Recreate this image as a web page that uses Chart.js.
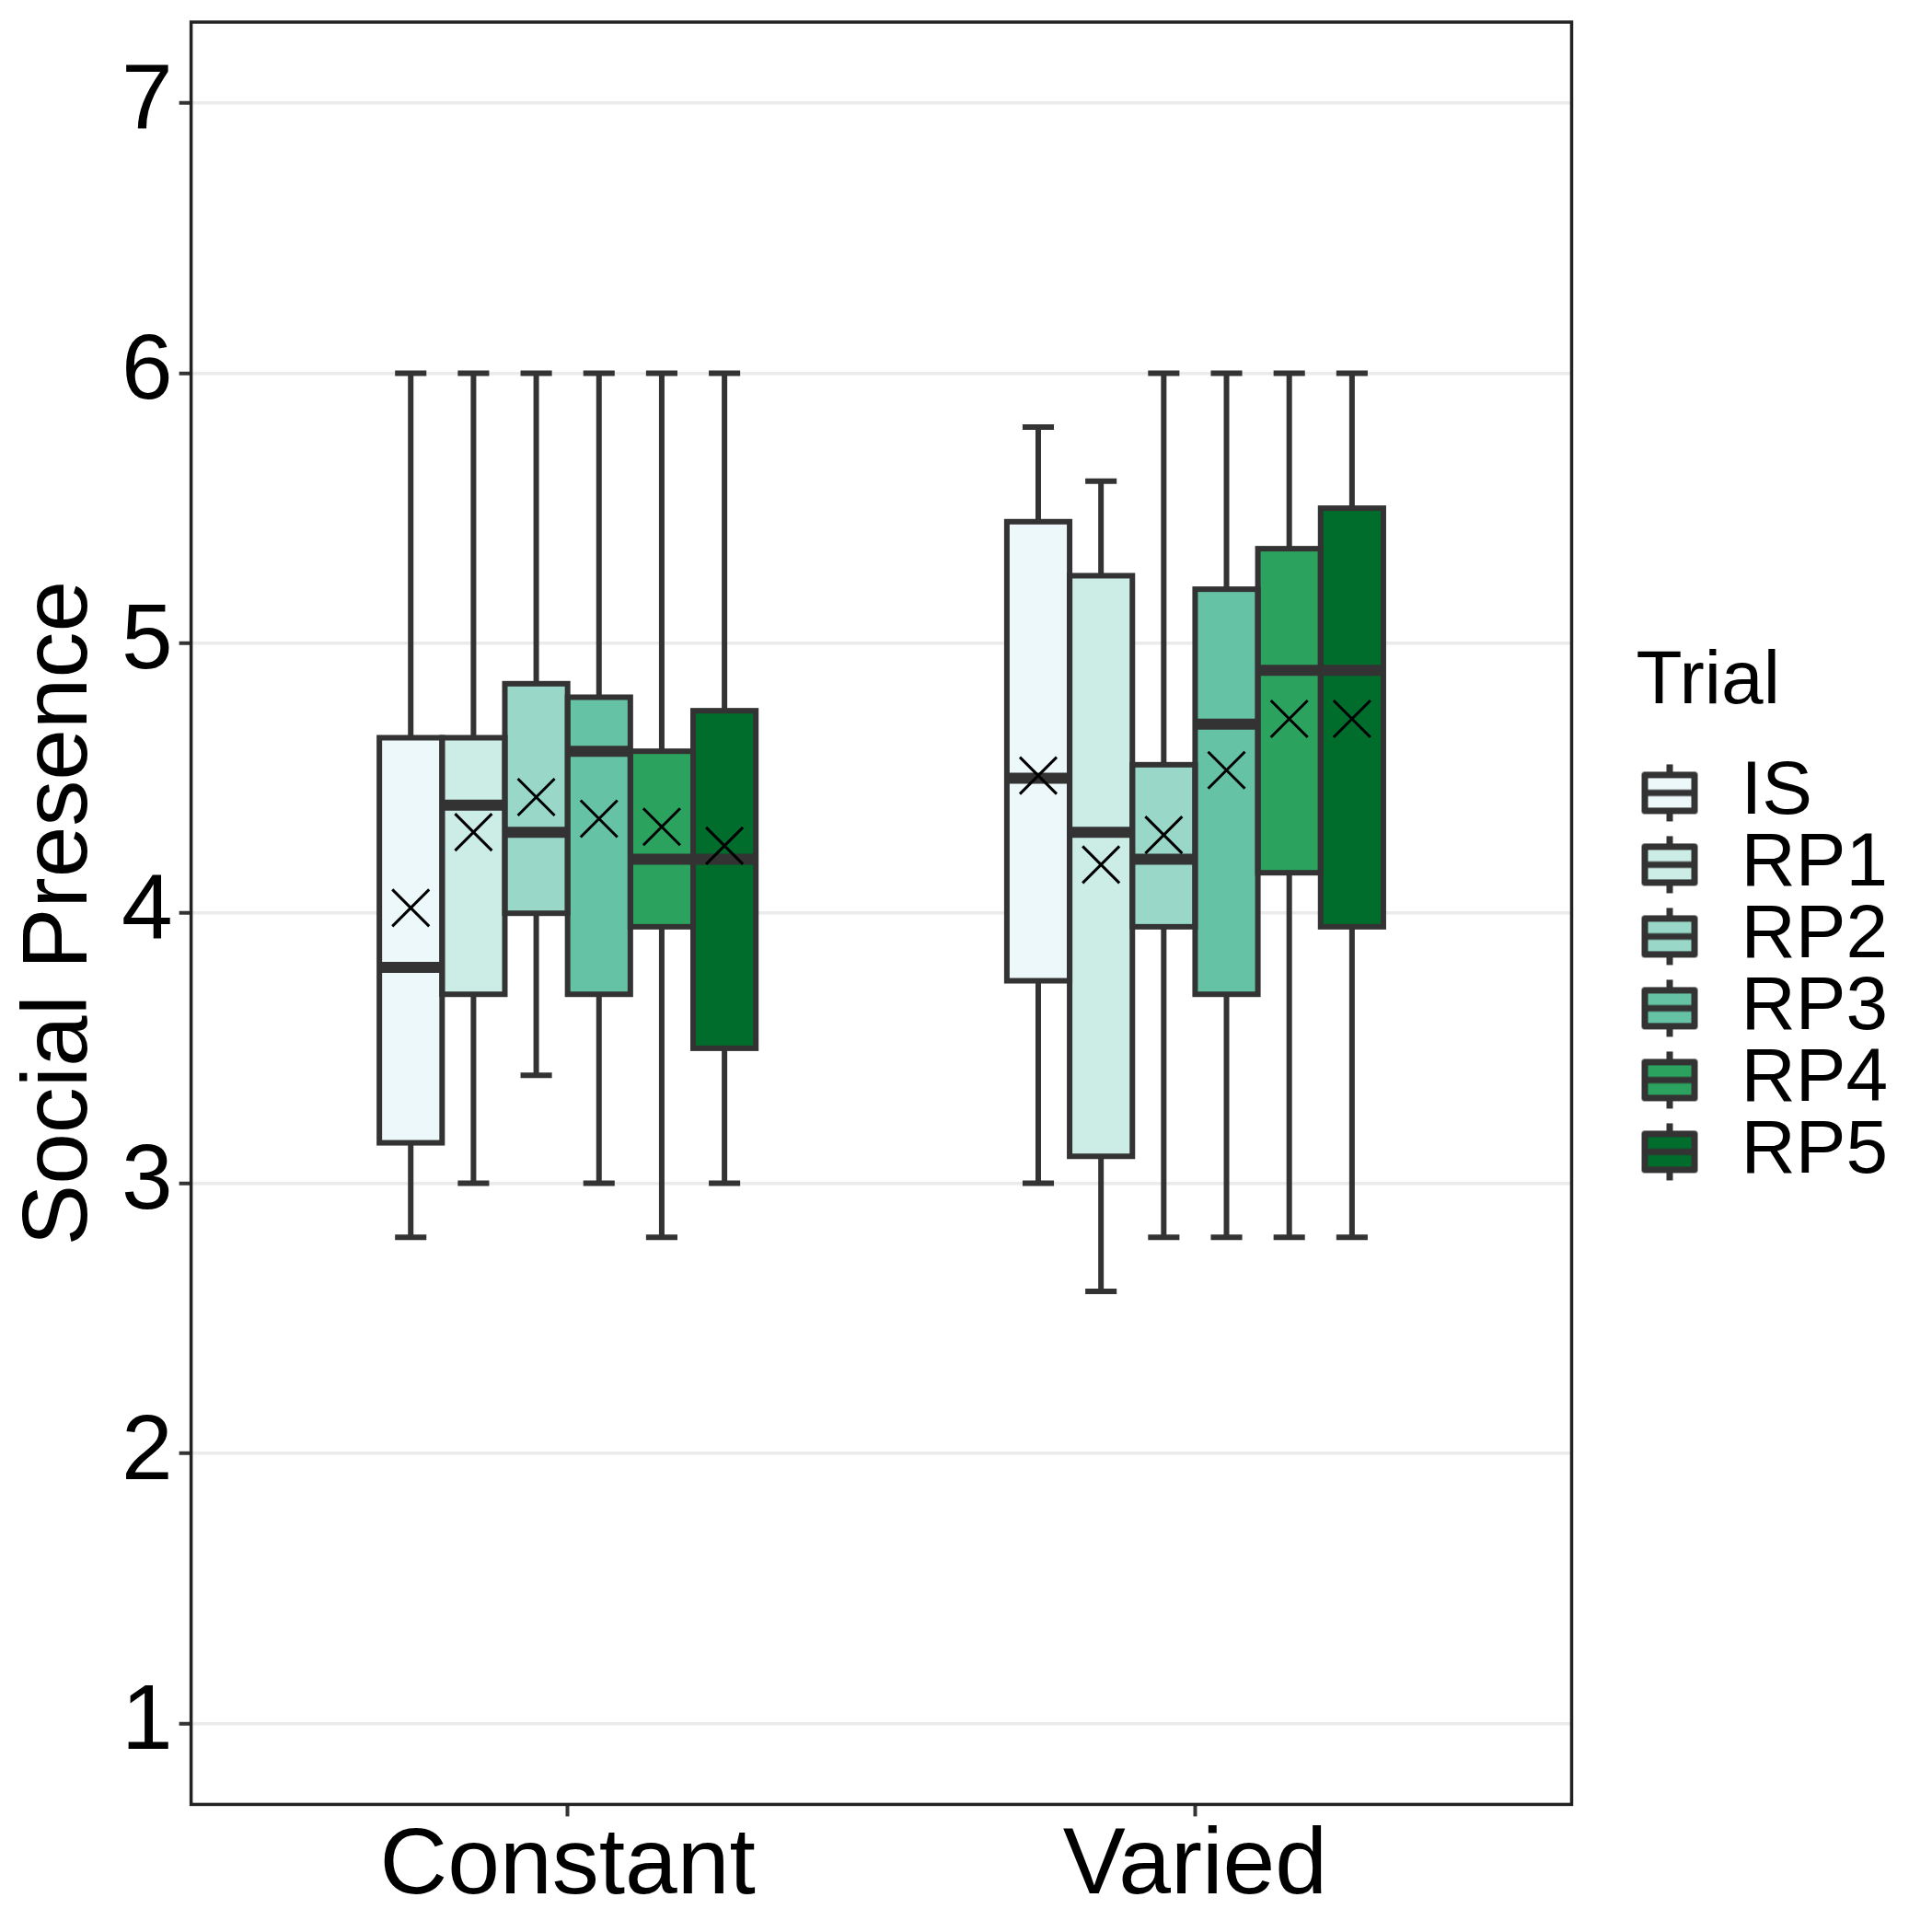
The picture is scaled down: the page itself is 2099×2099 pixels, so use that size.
<!DOCTYPE html>
<html>
<head>
<meta charset="utf-8">
<script src="https://cdn.jsdelivr.net/npm/chart.js@4.4.1/dist/chart.umd.min.js"></script>
<style>
  html, body { margin: 0; padding: 0; background: #ffffff; }
  #wrap { width: 2099px; height: 2099px; }
</style>
</head>
<body>
<div id="wrap"><canvas id="box"></canvas></div>
<script>
// categories and groups
const groups = ['Constant', 'Varied'];
const trials = ['IS', 'RP1', 'RP2', 'RP3', 'RP4', 'RP5'];

// box statistics, one row per trial: [Constant, Varied]
const lowWhisker    = [[2.8, 3.0], [3.0, 2.6], [3.4, 2.8], [3.0, 2.8], [2.8, 2.8], [3.0, 2.8]];
const lowerQuartile = [[3.15, 3.75], [3.7, 3.1], [4.0, 3.95], [3.7, 3.7], [3.95, 4.15], [3.5, 3.95]];
const medians       = [[3.8, 4.5], [4.4, 4.3], [4.3, 4.2], [4.6, 4.7], [4.2, 4.9], [4.2, 4.9]];
const upperQuartile = [[4.65, 5.45], [4.65, 5.25], [4.85, 4.55], [4.8, 5.2], [4.6, 5.35], [4.75, 5.5]];
const highWhisker   = [[6.0, 5.8], [6.0, 5.6], [6.0, 6.0], [6.0, 6.0], [6.0, 6.0], [6.0, 6.0]];
const means         = [[4.02, 4.51], [4.30, 4.18], [4.43, 4.29], [4.35, 4.53], [4.32, 4.72], [4.25, 4.72]];

const yTicks = [1, 2, 3, 4, 5, 6, 7];

const fills = ['#edf8fb', '#ccece6', '#99d8c9', '#66c2a4', '#2ca25f', '#006d2c'];
const ink = '#333333';

Chart.defaults.font.family = '"Liberation Sans", Arial, Helvetica, sans-serif';
Chart.defaults.color = '#000000';

// little boxplot glyphs for the legend keys
function keyGlyph(fill) {
  const c = document.createElement('canvas');
  c.width = 77;
  c.height = 70;
  const g = c.getContext('2d');
  const cx = 40.5, cy = 35;
  g.lineWidth = 7;
  g.strokeStyle = ink;
  g.lineJoin = 'round';
  g.beginPath();
  g.moveTo(cx, cy - 31); g.lineTo(cx, cy - 22);
  g.moveTo(cx, cy + 22); g.lineTo(cx, cy + 31);
  g.stroke();
  g.fillStyle = fill;
  g.fillRect(cx - 27, cy - 19.5, 54, 39);
  g.strokeRect(cx - 27, cy - 19.5, 54, 39);
  g.beginPath();
  g.moveTo(cx - 27, cy); g.lineTo(cx + 27, cy);
  g.stroke();
  return c;
}
const keys = fills.map(keyGlyph);

const datasets = trials.map((t, i) => ({
  label: t,
  data: groups.map((g, j) => ({ x: j + 1, y: [lowerQuartile[i][j], upperQuartile[i][j]] })),
  backgroundColor: fills[i],
  borderWidth: 0,
  categoryPercentage: 0.6,
  barPercentage: 1.0
}));

const boxParts = {
  id: 'boxParts',
  beforeDatasetsDraw(chart) {
    const ctx = chart.ctx;
    const y = chart.scales.y;
    ctx.save();
    ctx.strokeStyle = ink;
    ctx.lineCap = 'butt';
    chart.data.datasets.forEach((ds, i) => {
      chart.getDatasetMeta(i).data.forEach((bar, j) => {
        const { x, width } = bar.getProps(['x', 'width'], true);
        const top = y.getPixelForValue(highWhisker[i][j]);
        const q3 = y.getPixelForValue(upperQuartile[i][j]);
        const q1 = y.getPixelForValue(lowerQuartile[i][j]);
        const bot = y.getPixelForValue(lowWhisker[i][j]);
        ctx.lineWidth = 6;
        ctx.beginPath();
        ctx.moveTo(x, q3); ctx.lineTo(x, top);
        ctx.moveTo(x, q1); ctx.lineTo(x, bot);
        ctx.moveTo(x - width / 4, top); ctx.lineTo(x + width / 4, top);
        ctx.moveTo(x - width / 4, bot); ctx.lineTo(x + width / 4, bot);
        ctx.stroke();
      });
    });
    ctx.restore();
  },
  afterDatasetsDraw(chart) {
    const ctx = chart.ctx;
    const y = chart.scales.y;
    ctx.save();
    chart.data.datasets.forEach((ds, i) => {
      chart.getDatasetMeta(i).data.forEach((bar, j) => {
        const { x, width, y: top, base } = bar.getProps(['x', 'width', 'y', 'base'], true);
        const left = x - width / 2;
        ctx.strokeStyle = ink;
        ctx.lineWidth = 6;
        ctx.lineJoin = 'miter';
        ctx.strokeRect(left, top, width, base - top);
        const med = y.getPixelForValue(medians[i][j]);
        ctx.lineWidth = 12;
        ctx.beginPath();
        ctx.moveTo(left, med); ctx.lineTo(left + width, med);
        ctx.stroke();
        const m = y.getPixelForValue(means[i][j]);
        const h = 20;
        ctx.strokeStyle = '#000000';
        ctx.lineWidth = 3;
        ctx.beginPath();
        ctx.moveTo(x - h, m - h); ctx.lineTo(x + h, m + h);
        ctx.moveTo(x - h, m + h); ctx.lineTo(x + h, m - h);
        ctx.stroke();
      });
    });
    ctx.restore();
  },
  afterDraw(chart) {
    const a = chart.chartArea;
    const ctx = chart.ctx;
    ctx.save();
    ctx.strokeStyle = '#222222';
    ctx.lineWidth = 3.5;
    ctx.strokeRect(a.left, a.top, a.right - a.left, a.bottom - a.top);
    ctx.restore();
  }
};

new Chart(document.getElementById('box'), {
  type: 'bar',
  data: { datasets: datasets },
  plugins: [boxParts],
  options: {
    responsive: true,
    maintainAspectRatio: false,
    devicePixelRatio: 1,
    animation: false,
    events: [],
    layout: { padding: { left: 0, top: 24, right: 38, bottom: 14 } },
    plugins: {
      tooltip: { enabled: false },
      legend: {
        position: 'right',
        align: 'start',
        title: {
          display: true,
          text: 'Trial',
          position: 'start',
          color: '#000000',
          font: { size: 82, lineHeight: 1.2 },
          padding: { top: 676, bottom: 26 }
        },
        labels: {
          usePointStyle: true,
          pointStyleWidth: 77,
          padding: -4,
          color: '#000000',
          font: { size: 82 },
          generateLabels: chart => chart.data.datasets.map((ds, i) => ({
            text: ds.label,
            pointStyle: keys[i],
            datasetIndex: i,
            hidden: false,
            lineWidth: 0,
            fillStyle: ds.backgroundColor,
            strokeStyle: 'rgba(0,0,0,0)'
          }))
        }
      }
    },
    scales: {
      x: {
        type: 'linear',
        min: 0.4,
        max: 2.6,
        offset: false,
        afterBuildTicks: s => { s.ticks = groups.map((g, j) => ({ value: j + 1 })); },
        ticks: {
          callback: v => groups[v - 1],
          autoSkip: false,
          maxRotation: 0,
          padding: 15,
          color: '#000000',
          font: { size: 102, lineHeight: 0.8 }
        },
        grid: {
          offset: false,
          drawOnChartArea: false,
          tickLength: 13,
          tickColor: ink,
          tickWidth: 4
        },
        border: { display: false }
      },
      y: {
        type: 'linear',
        min: 0.7,
        max: 7.3,
        afterBuildTicks: s => { s.ticks = yTicks.map(v => ({ value: v })); },
        ticks: {
          padding: 7,
          color: '#000000',
          font: { size: 100, lineHeight: 0.3 }
        },
        grid: {
          color: '#ebebeb',
          lineWidth: 3.5,
          tickLength: 13,
          tickColor: ink,
          tickWidth: 4
        },
        border: { display: false },
        title: {
          display: true,
          text: 'Social Presence',
          color: '#000000',
          font: { size: 100, lineHeight: 1 },
          padding: { top: 16, bottom: 9 }
        }
      },
      gap: {
        type: 'linear',
        position: 'right',
        display: true,
        grid: { display: false },
        border: { display: false },
        ticks: { display: false },
        afterFit: s => { s.width = 70; }
      }
    }
  }
});
</script>
</body>
</html>
